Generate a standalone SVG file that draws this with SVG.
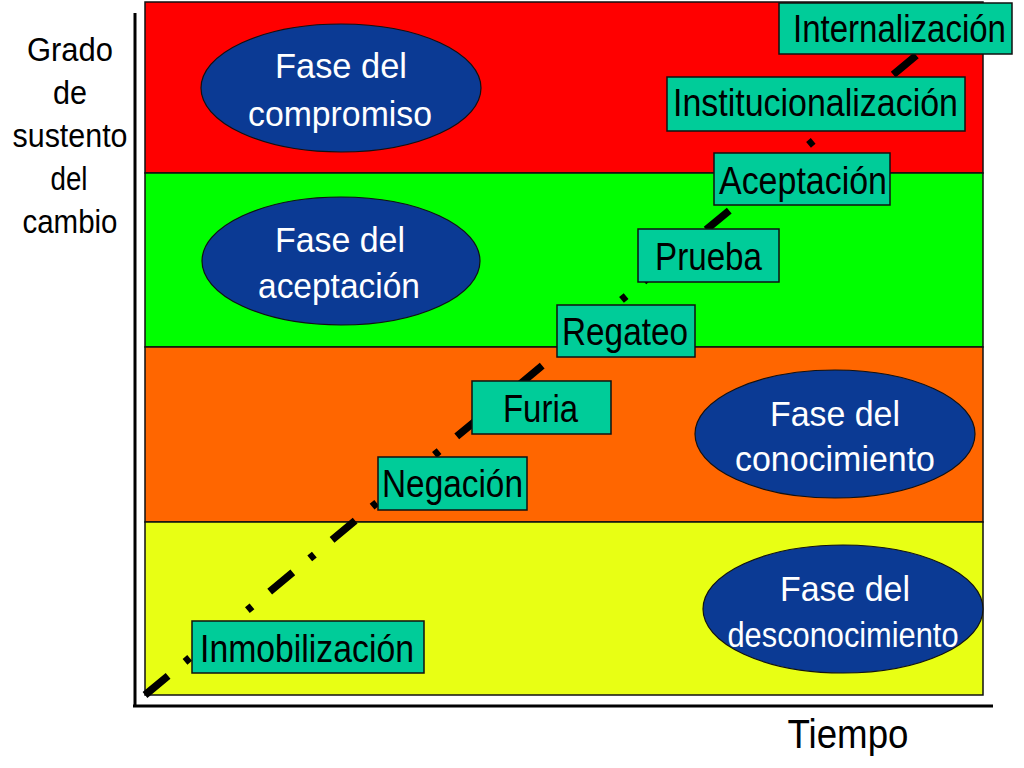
<svg xmlns="http://www.w3.org/2000/svg" width="1024" height="768" viewBox="0 0 1024 768">
<style>
text{font-family:"Liberation Sans",Arial,sans-serif}
.band{stroke:#111;stroke-width:1.5}
.phase ellipse{fill:#0B3A94;stroke:#111;stroke-width:1.2}
.phase text{fill:#fff;font-size:35px;text-anchor:middle}
.stage rect{fill:#00CC99;stroke:#111;stroke-width:1.5}
.stage text{fill:#000;font-size:38px}
.axis line{stroke:#000;stroke-width:3}
.axis text{fill:#000;font-size:34px;text-anchor:middle}
.trend{fill:none;stroke:#000;stroke-width:7.5;stroke-dasharray:30 22 6 23}
</style>
<rect width="1024" height="768" fill="#fff"/>
<g id="bands">
<rect class="band" x="145" y="2" width="838" height="171" fill="#FF0000"/>
<rect class="band" x="145" y="173" width="838" height="174" fill="#00FF00"/>
<rect class="band" x="145" y="347" width="838" height="175" fill="#FF6600"/>
<rect class="band" x="145" y="522" width="838" height="173" fill="#E8FF14"/>
</g>
<g id="axes" class="axis">
<line x1="135" y1="13" x2="135" y2="707"/>
<line x1="133" y1="706" x2="993" y2="706"/>
<text x="70" y="61" textLength="86" lengthAdjust="spacingAndGlyphs">Grado</text>
<text x="70" y="104" textLength="34" lengthAdjust="spacingAndGlyphs">de</text>
<text x="70" y="147" textLength="115" lengthAdjust="spacingAndGlyphs">sustento</text>
<text x="69" y="190" textLength="37" lengthAdjust="spacingAndGlyphs">del</text>
<text x="70" y="233" textLength="95" lengthAdjust="spacingAndGlyphs">cambio</text>
<text x="848" y="748" style="font-size:40px" textLength="121" lengthAdjust="spacingAndGlyphs">Tiempo</text>
</g>
<g id="connectors">
<path class="trend" d="M145,695 L918,54"/>
</g>
<g id="fase-compromiso" class="phase">
<ellipse cx="341" cy="88" rx="140" ry="64"/>
<text x="341" y="78" textLength="132" lengthAdjust="spacingAndGlyphs">Fase del</text>
<text x="340" y="126" textLength="184" lengthAdjust="spacingAndGlyphs">compromiso</text>
</g>
<g id="fase-aceptacion" class="phase">
<ellipse cx="341" cy="261" rx="139" ry="64"/>
<text x="340" y="252" textLength="130" lengthAdjust="spacingAndGlyphs">Fase del</text>
<text x="339" y="298" textLength="162" lengthAdjust="spacingAndGlyphs">aceptación</text>
</g>
<g id="fase-conocimiento" class="phase">
<ellipse cx="835" cy="434" rx="140" ry="64"/>
<text x="835" y="426" textLength="130" lengthAdjust="spacingAndGlyphs">Fase del</text>
<text x="835" y="471" textLength="200" lengthAdjust="spacingAndGlyphs">conocimiento</text>
</g>
<g id="fase-desconocimiento" class="phase">
<ellipse cx="843" cy="609" rx="140" ry="64"/>
<text x="845" y="601" textLength="130" lengthAdjust="spacingAndGlyphs">Fase del</text>
<text x="843" y="647" textLength="231" lengthAdjust="spacingAndGlyphs">desconocimiento</text>
</g>
<g id="internalizacion" class="stage">
<rect x="779" y="3" width="233" height="51"/>
<text x="793" y="42" textLength="213" lengthAdjust="spacingAndGlyphs">Internalización</text>
</g>
<g id="institucionalizacion" class="stage">
<rect x="667" y="77" width="298" height="54"/>
<text x="673" y="116" textLength="285" lengthAdjust="spacingAndGlyphs">Institucionalización</text>
</g>
<g id="aceptacion" class="stage">
<rect x="714" y="153" width="176" height="52"/>
<text x="719" y="194" textLength="168" lengthAdjust="spacingAndGlyphs">Aceptación</text>
</g>
<g id="prueba" class="stage">
<rect x="638" y="229" width="141" height="53"/>
<text x="655" y="270" textLength="107" lengthAdjust="spacingAndGlyphs">Prueba</text>
</g>
<g id="regateo" class="stage">
<rect x="557" y="305" width="138" height="52"/>
<text x="562" y="345" textLength="126" lengthAdjust="spacingAndGlyphs">Regateo</text>
</g>
<g id="furia" class="stage">
<rect x="472" y="381" width="139" height="53"/>
<text x="503" y="422" textLength="75" lengthAdjust="spacingAndGlyphs">Furia</text>
</g>
<g id="negacion" class="stage">
<rect x="378" y="457" width="149" height="53"/>
<text x="382" y="497" textLength="141" lengthAdjust="spacingAndGlyphs">Negación</text>
</g>
<g id="inmobilizacion" class="stage">
<rect x="192" y="621" width="232" height="52"/>
<text x="200" y="662" textLength="214" lengthAdjust="spacingAndGlyphs">Inmobilización</text>
</g>
</svg>
